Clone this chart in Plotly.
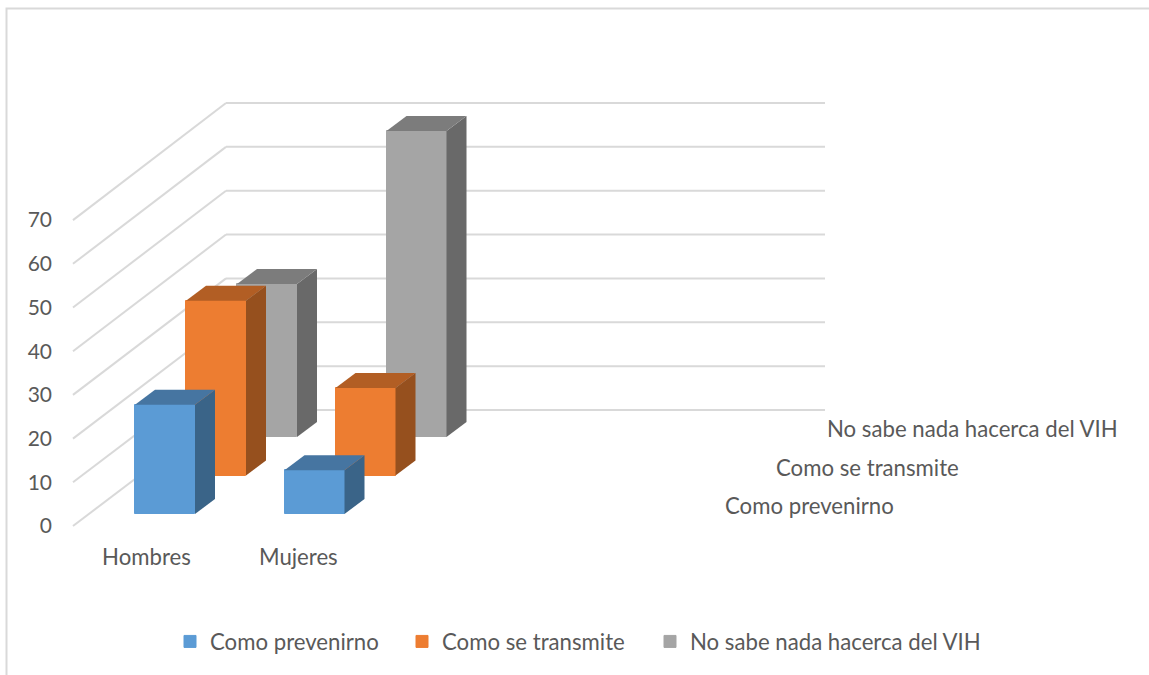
import plotly.graph_objects as go

categories = ["Hombres", "Mujeres"]
series_names = ["Como prevenirno", "Como se transmite", "No sabe nada hacerca del VIH"]
values_prevenir = [25, 10]
values_transmite = [40, 20]
values_nosabe = [35, 70]
y_ticks = [0, 10, 20, 30, 40, 50, 60, 70]
front_colors = ["#5B9BD5", "#ED7D31", "#A5A5A5"]
side_colors = ["#3A6488", "#96501E", "#696969"]
top_colors = ["#4675A1", "#B25E24", "#7C7C7C"]
legend_text_px = [210, 442, 690]

W, H = 1149, 675
L, R, T, B = 53, 1140, 2, 542
PX_X, PX_Y = 149.5, 4.37          # px per category / per value unit
X_ORIGIN, Y_ORIGIN = 165, 526     # px of first category centre / value 0 front

BAR_W = 60 / PX_X
STEP_X, STEP_Y = 51 / PX_X, 38.5 / PX_Y      # offset per series row in depth
EXT_X, EXT_Y = 20 / PX_X, 15 / PX_Y          # bar depth
BASE0 = 12 / PX_Y                            # first row's floor height
WALL_X0, WALL_X1 = (73 - X_ORIGIN) / PX_X, (226 - X_ORIGIN) / PX_X
WALL_X2 = (825 - X_ORIGIN) / PX_X
WALL_DY = 116 / PX_Y
TEXT = dict(family="Lato", size=22.2, color="#595959")

fig = go.Figure()
all_vals = [values_prevenir, values_transmite, values_nosabe]

shapes = []
for v in y_ticks:
    vb = v * 43.86 / 43.7
    for x0, y0, x1, y1 in [(WALL_X0, v, WALL_X1, vb + WALL_DY), (WALL_X1, vb + WALL_DY, WALL_X2, vb + WALL_DY)]:
        shapes.append(dict(type="line", xref="x", yref="y", x0=x0, y0=y0, x1=x1, y1=y1,
                           line=dict(color="#D9D9D9", width=2), layer="below"))
shapes.append(dict(type="rect", xref="paper", yref="paper",
                   x0=(6.5 - L) / (R - L), x1=(1170 - L) / (R - L),
                   y0=(B - 700) / (B - T), y1=(B - 8.5) / (B - T),
                   line=dict(color="#D9D9D9", width=2), layer="below"))

legend_ids = ["legend", "legend2", "legend3"]
for row in [2, 1, 0]:
    xs = [i + row * STEP_X for i in range(len(categories))]
    base = BASE0 + row * STEP_Y
    fig.add_trace(go.Bar(x=xs, y=all_vals[row], base=[base] * len(xs), width=BAR_W,
                         name=series_names[row], legend=legend_ids[row],
                         marker=dict(color=front_colors[row], line=dict(width=1, color=front_colors[row]))))
    for xc, v in zip(xs, all_vals[row]):
        xl, xr = xc - BAR_W / 2, xc + BAR_W / 2
        top = base + v
        fig.add_trace(go.Scatter(
            x=[xr, xr + EXT_X, xr + EXT_X, xr, xr], y=[base, base + EXT_Y, top + EXT_Y, top, base],
            mode="lines", fill="toself", fillcolor=side_colors[row], line=dict(width=0),
            showlegend=False, hoverinfo="skip"))
        fig.add_trace(go.Scatter(
            x=[xl, xl + EXT_X, xr + EXT_X, xr, xl], y=[top, top + EXT_Y, top + EXT_Y, top, top],
            mode="lines", fill="toself", fillcolor=top_colors[row], line=dict(width=0),
            showlegend=False, hoverinfo="skip"))

for row, name in enumerate(series_names):
    fig.add_annotation(x=(725 - X_ORIGIN) / PX_X + row * STEP_X, y=(526 - 505.5) / PX_Y + row * STEP_Y,
                       text=name, showarrow=False, xanchor="left", yanchor="middle",
                       xshift=-2, font=TEXT)

layout_legends = {}
for lid, px in zip(legend_ids, legend_text_px):
    layout_legends[lid] = dict(orientation="h", x=(px - 40 - L) / (R - L), y=(B - 620.5) / (B - T),
                               xanchor="left", yanchor="top", font=TEXT, bgcolor="rgba(0,0,0,0)")

fig.update_layout(
    width=W, height=H, autosize=False, template=None,
    margin=dict(l=L, r=W - R, t=T, b=H - B, pad=0),
    paper_bgcolor="white", plot_bgcolor="rgba(0,0,0,0)",
    barmode="overlay", shapes=shapes, bargap=0,
    font=TEXT, showlegend=True,
    xaxis=dict(range=[(L - X_ORIGIN) / PX_X, (R - X_ORIGIN) / PX_X], showgrid=False, zeroline=False,
               showline=False, ticks="", tickvals=[-0.124, 0.892], ticktext=categories, fixedrange=True),
    yaxis=dict(range=[(Y_ORIGIN - B) / PX_Y, (Y_ORIGIN - T) / PX_Y], showgrid=False, zeroline=False,
               showline=False, ticks="", tickvals=y_ticks, ticktext=[str(t) for t in y_ticks],
               tickfont=dict(family="Lato", size=21, color="#595959"), fixedrange=True),
    **layout_legends,
)

fig.write_html("out.html", config={"displayModeBar": False},
               post_script="document.body.style.margin='0';")
